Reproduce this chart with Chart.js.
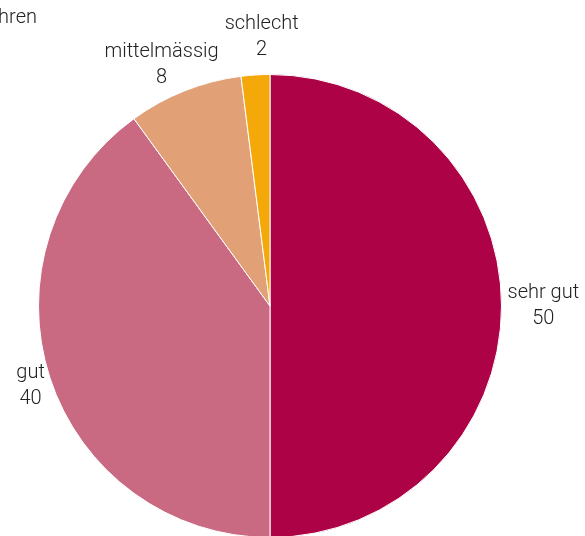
<!DOCTYPE html>
<html>
<head>
<meta charset="utf-8">
<script src="https://cdn.jsdelivr.net/npm/chart.js@4/dist/chart.umd.min.js"></script>
<style>
	html, body { margin: 0; padding: 0; background: #fff; overflow: hidden; }
	#wrap { width: 585px; height: 540px; position: relative; }
</style>
</head>
<body>
<div id="wrap"><canvas id="pie-chart"></canvas></div>
<script>
// ratings and their counts, clockwise from twelve o'clock
const categories = [ 'sehr gut', 'gut', 'mittelmässig', 'schlecht' ];
const counts = [ 50, 40, 8, 2 ];
const sliceColors = [ '#ad0346', '#c96a82', '#e2a077', '#f5a80a' ];
const cornerNote = 'nicht erfahren';

const labelFont = '300 20px Roboto, "Liberation Sans", Arial, sans-serif';
const labelColor = '#222222';
const lineGap = 26;

// draw "name / value" just outside each slice, pushed away from the pie
const outsideLabels = {
	id: 'outsideLabels',
	afterDatasetsDraw( chart ) {
		const c = chart.ctx;
		const meta = chart.getDatasetMeta( 0 );
		c.save();
		c.font = labelFont;
		c.fillStyle = labelColor;
		c.textAlign = 'center';
		c.textBaseline = 'middle';
		const boxes = [];
		meta.data.forEach( ( arc, i ) => {
			const mid = ( arc.startAngle + arc.endAngle ) / 2;
			const dx = Math.cos( mid );
			const dy = Math.sin( mid );
			const r = arc.outerRadius + 6;
			const w = Math.max( c.measureText( categories[ i ] ).width, c.measureText( String( counts[ i ] ) ).width );
			let x = arc.x + dx * r + dx * w / 2;
			let y = arc.y + dy * r + dy * 22;
			// small slices sit close together: push this one sideways off the last one
			const prev = boxes[ boxes.length - 1 ];
			if ( prev && Math.abs( prev.y - y ) < lineGap * 2 ) {
				const overlap = prev.x + prev.w / 2 - ( x - w / 2 );
				if ( overlap > -6 ) {
					x += overlap + 6;
					y -= 10;
				}
			}
			boxes.push( { x, y, w } );
			c.fillText( categories[ i ], x, y - lineGap / 2 );
			c.fillText( String( counts[ i ] ), x, y + lineGap / 2 );
		} );
		// note at the top left, running off the edge
		c.textAlign = 'right';
		c.fillText( cornerNote, 37, 18 );
		c.restore();
	},
};

// eslint-disable-next-line no-new
new Chart( document.getElementById( 'pie-chart' ), {
	type: 'pie',
	data: {
		labels: categories,
		datasets: [
			{
				data: counts,
				backgroundColor: sliceColors,
				borderColor: '#ffffff',
				borderWidth: 1,
			},
		],
	},
	options: {
		responsive: true,
		maintainAspectRatio: false,
		animation: false,
		layout: { padding: { left: 38, right: 83, top: 74, bottom: 2 } },
		plugins: {
			legend: { display: false },
			tooltip: { enabled: false },
		},
	},
	plugins: [ outsideLabels ],
} );
</script>
</body>
</html>
